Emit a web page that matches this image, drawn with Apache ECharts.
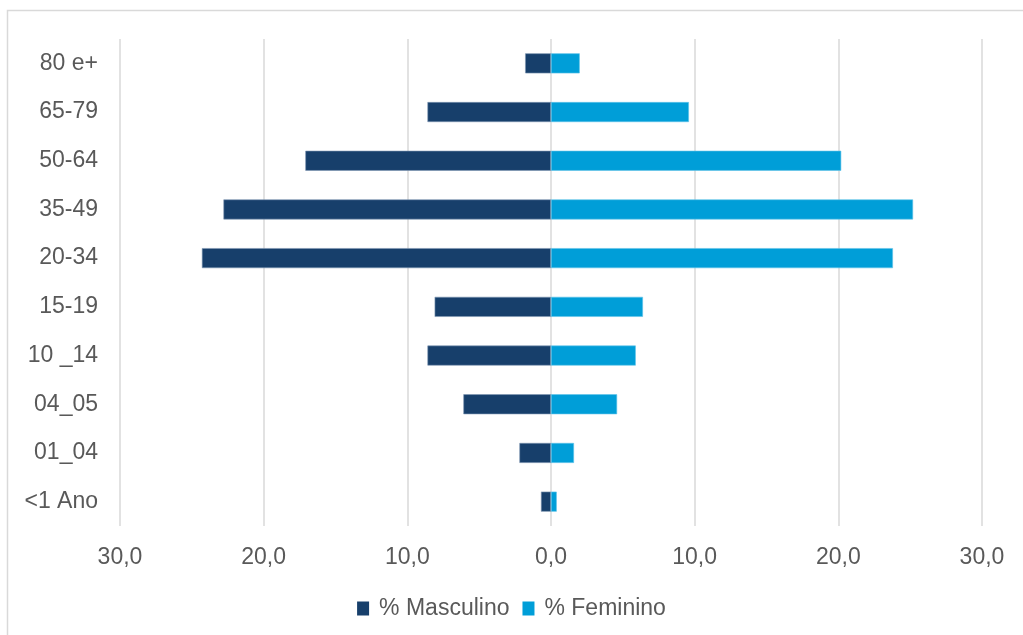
<!DOCTYPE html>
<html>
<head>
<meta charset="utf-8">
<script src="https://cdn.jsdelivr.net/npm/echarts@6/dist/echarts.min.js"></script>
<style>
html,body{margin:0;padding:0;background:#fff;}
#chart{width:1023px;height:635px;}
</style>
</head>
<body>
<div id="chart"></div>
<script>
const categories = ['<1 Ano', '01_04', '04_05', '10 _14', '15-19', '20-34', '35-49', '50-64', '65-79', '80 e+'];
const masculino = [0.7, 2.2, 6.1, 8.6, 8.1, 24.3, 22.8, 17.1, 8.6, 1.8];
const feminino = [0.4, 1.6, 4.6, 5.9, 6.4, 23.8, 25.2, 20.2, 9.6, 2.0];
const xTicks = [-30, -20, -10, 0, 10, 20, 30];

const FONT = '"Liberation Sans", Arial, sans-serif';
const chart = echarts.init(document.getElementById('chart'), null, {renderer: 'canvas'});
chart.setOption({
  animation: false,
  backgroundColor: '#ffffff',
  textStyle: {fontFamily: FONT},
  graphic: [{
    type: 'rect', silent: true, z: -10,
    shape: {x: 7.5, y: 10.5, width: 1040, height: 650},
    style: {fill: 'none', stroke: '#d9d9d9', lineWidth: 1.5}
  }],
  legend: {
    data: ['% Masculino', '% Feminino'],
    bottom: 10, left: 'center',
    itemWidth: 12, itemHeight: 14, itemGap: 13,
    icon: 'rect',
    itemStyle: {borderWidth: 0},
    textStyle: {fontFamily: FONT, fontSize: 23, color: '#595959', padding: [0, 0, 0, 5]}
  },
  grid: {left: 120, right: 41, top: 39, bottom: 109, containLabel: false},
  xAxis: {
    type: 'value', min: -30, max: 30, interval: 10,
    axisLine: {show: false}, axisTick: {show: false},
    splitLine: {show: true, lineStyle: {color: '#d9d9d9', width: 1.5}},
    axisLabel: {
      margin: 20, fontFamily: FONT, fontSize: 23, color: '#595959',
      formatter: v => xTicks.includes(v) ? Math.abs(v).toFixed(1).replace('.', ',') : ''
    }
  },
  yAxis: {
    type: 'category', data: categories,
    axisLine: {show: false}, axisTick: {show: false},
    axisLabel: {margin: 22, fontFamily: FONT, fontSize: 23, color: '#595959', padding: [6, 0, 0, 0]}
  },
  series: [
    {
      name: '% Masculino', type: 'bar', stack: 'pop',
      data: masculino.map(v => -v),
      barWidth: 20,
      itemStyle: {color: '#173f6b', borderColor: '#7f97b3', borderWidth: 0.6}
    },
    {
      name: '% Feminino', type: 'bar', stack: 'pop',
      data: feminino,
      barWidth: 20,
      itemStyle: {color: '#009ed8', borderColor: '#5fc3ea', borderWidth: 0.6}
    }
  ]
});
</script>
</body>
</html>
